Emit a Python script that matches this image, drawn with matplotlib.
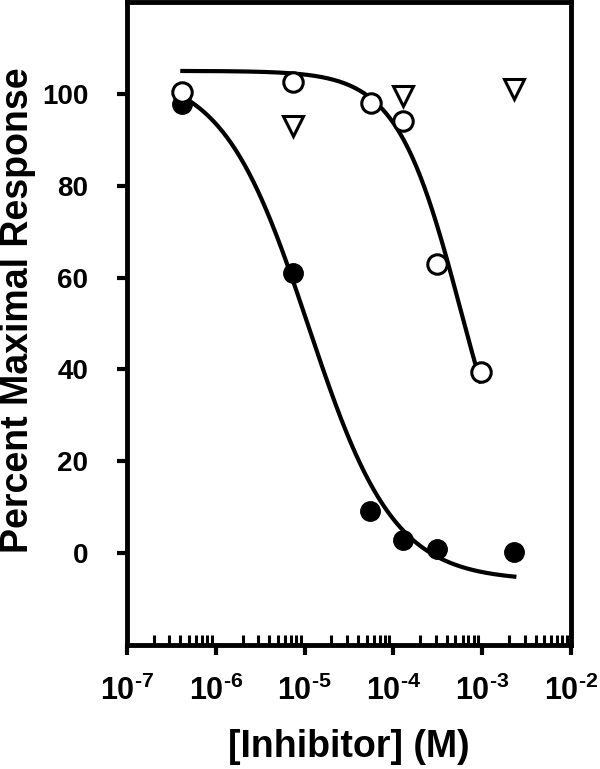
import numpy as np
import matplotlib
matplotlib.use("Agg")
import matplotlib.pyplot as plt

plt.rcParams['font.family'] = ['Liberation Sans', 'DejaVu Sans']
plt.rcParams['font.weight'] = 'bold'
plt.rcParams['mathtext.fontset'] = 'custom'
plt.rcParams['mathtext.rm'] = 'Liberation Sans:bold'
plt.rcParams['mathtext.bf'] = 'Liberation Sans:bold'
plt.rcParams['mathtext.default'] = 'rm'

# Filled circles
conc_filled = [4.2e-7, 7.4e-6, 5.5e-5, 1.29e-4, 3.1e-4, 2.3e-3]
resp_filled = [97.8, 60.9, 9.2, 2.8, 0.9, 0.2]

# Open circles
conc_open = [4.2e-7, 7.4e-6, 5.6e-5, 1.29e-4, 3.1e-4, 9.8e-4]
resp_open = [100.4, 102.6, 98.0, 94.2, 63.0, 39.4]

# Open triangles
conc_tri = [7.4e-6, 1.29e-4, 2.3e-3]
resp_tri = [92.9, 99.6, 101.0]

# Fitted curve parameters (bottom, top, IC50, Hill slope) and drawn range
fit_filled = (-6.0, 105.0, 1.1e-5, 0.9)
range_filled = (4.2e-7, 2.3e-3)
fit_open = (0.0, 105.0, 5.8e-4, 1.2)
range_open = (4.2e-7, 9.5e-4)

x_ticks = [1e-7, 1e-6, 1e-5, 1e-4, 1e-3, 1e-2]
x_ticklabels = [r'$10^{\text{-7}}$', r'$10^{\text{-6}}$', r'$10^{\text{-5}}$',
                r'$10^{\text{-4}}$', r'$10^{\text{-3}}$', r'$10^{\text{-2}}$']
y_ticks = [0, 20, 40, 60, 80, 100]


def logistic(x, p):
    bottom, top, ic50, hill = p
    return bottom + (top - bottom) / (1 + (x / ic50) ** hill)


fig = plt.figure(figsize=(6.0, 7.69), dpi=100)
ax = fig.add_axes([0.2117, 0.1612, 0.74, 0.8362])

# fitted curves
xs = np.logspace(np.log10(range_filled[0]), np.log10(range_filled[1]), 300)
ax.plot(xs, logistic(xs, fit_filled), color='black', lw=3, zorder=2)
xs = np.logspace(np.log10(range_open[0]), np.log10(range_open[1]), 300)
ax.plot(xs, logistic(xs, fit_open), color='black', lw=3, zorder=2)

# data points
ax.plot(conc_filled, resp_filled, 'o', ms=14, color='black', zorder=3)
ax.plot(conc_open, resp_open, 'o', ms=14, mfc='white', mec='black',
        mew=2.2, zorder=3)
ax.plot(conc_tri, resp_tri, 'v', ms=15, mfc='white', mec='black',
        mew=2.2, zorder=3)

ax.set_xscale('log')
ax.set_xlim(1e-7, 1e-2)
ax.set_ylim(-20, 120)
ax.set_xticks(x_ticks)
ax.set_xticklabels(x_ticklabels, fontsize=22)
ax.set_yticks(y_ticks)
ax.set_yticklabels([str(v) for v in y_ticks], fontsize=20, fontweight='bold')
ax.xaxis.set_minor_locator(matplotlib.ticker.LogLocator(base=10, subs=np.arange(2, 10)))
ax.xaxis.set_minor_formatter(matplotlib.ticker.NullFormatter())

ax.tick_params(axis='x', which='major', direction='out', length=7, width=3, pad=15)
ax.tick_params(axis='x', which='minor', direction='in', length=7, width=2.2)
ax.tick_params(axis='y', which='major', direction='out', length=7, width=3, pad=21)
ax.tick_params(top=False, right=False, which='both')

for s in ax.spines.values():
    s.set_linewidth(3.5)

ax.set_xlabel('[Inhibitor] (M)', fontsize=27, fontweight='bold')
ax.set_ylabel('Percent Maximal Response', fontsize=27, fontweight='bold')
ax.yaxis.set_label_coords(-0.205, 0.52)
ax.xaxis.set_label_coords(0.5, -0.131)

fig.savefig('out.png', dpi=100)
